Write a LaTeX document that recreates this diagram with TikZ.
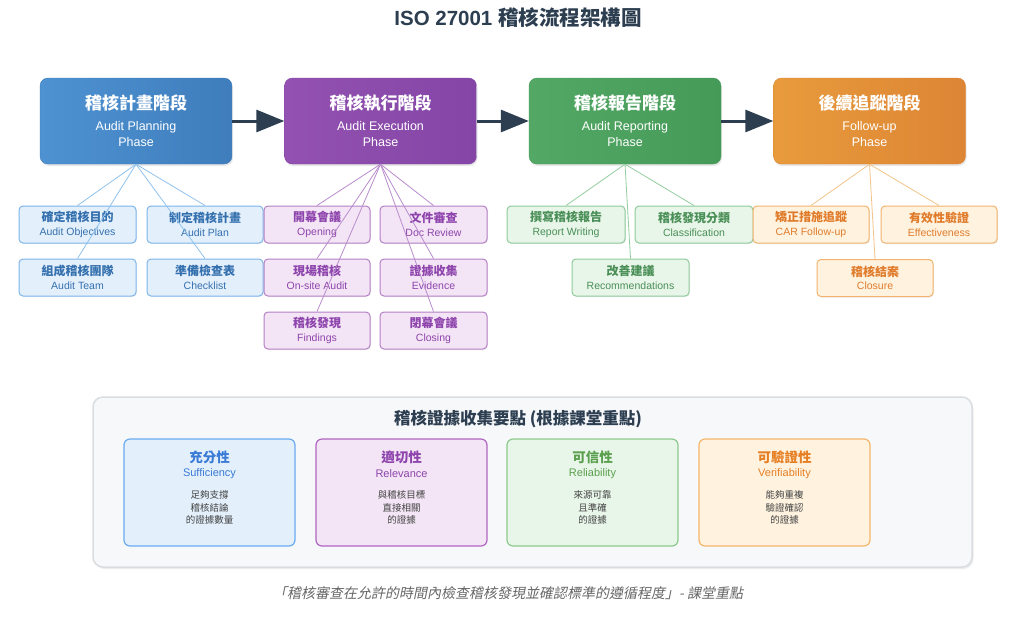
\documentclass[tikz,border=0pt]{standalone}
\usepackage{fontspec}
\setmainfont{Liberation Sans}
\newfontfamily\cjk{Noto Sans CJK TC}
\newfontfamily\cjkit{Noto Sans CJK TC}[FakeSlant=0.2]
\usetikzlibrary{arrows.meta,shadows,positioning}

% --- Colores ---
\definecolor{ink}{HTML}{2C3E50}
\definecolor{blueA}{HTML}{4E92D2}   \definecolor{blueB}{HTML}{3F7DBC}
\definecolor{purpleA}{HTML}{9352B1} \definecolor{purpleB}{HTML}{8445A6}
\definecolor{greenA}{HTML}{52A864}  \definecolor{greenB}{HTML}{469A58}
\definecolor{orangeA}{HTML}{E89B3C} \definecolor{orangeB}{HTML}{DD8535}
\definecolor{bluefill}{HTML}{E3F0FC}   \definecolor{blueline}{HTML}{7DB5EA}
\definecolor{bluetext}{HTML}{3570AE}   \definecolor{bluelink}{HTML}{90C2EE}
\definecolor{purplefill}{HTML}{F3E5F5} \definecolor{purpleline}{HTML}{B580C6}
\definecolor{purpletext}{HTML}{8E44AD} \definecolor{purplelink}{HTML}{B98CCD}
\definecolor{greenfill}{HTML}{E8F5E9}  \definecolor{greenline}{HTML}{8FCB9B}
\definecolor{greentext}{HTML}{4A8F57}  \definecolor{greenlink}{HTML}{93CD9E}
\definecolor{orangefill}{HTML}{FFF3E0} \definecolor{orangeline}{HTML}{F1B36E}
\definecolor{orangetext}{HTML}{E07B2A} \definecolor{orangelink}{HTML}{F3C48A}
\definecolor{blueedge}{HTML}{6AAAF0}   \definecolor{bluehead}{HTML}{3A7BD5}
\definecolor{purpleedge}{HTML}{B065C2} \definecolor{purplehead}{HTML}{8E44AD}
\definecolor{greenedge}{HTML}{8CC98C}  \definecolor{greenhead}{HTML}{5BA04E}
\definecolor{orangeedge}{HTML}{F5B56B} \definecolor{orangehead}{HTML}{E67E22}
\definecolor{panelfill}{HTML}{F7F8FA}
\definecolor{paneledge}{HTML}{DADDE0}
\definecolor{bodytext}{HTML}{444444}
\definecolor{quote}{HTML}{666666}

\begin{document}
\begin{tikzpicture}[x=1pt, y=-1pt,
  phase/.style={rounded corners=8pt, left color=#1A, right color=#1B, draw=#1B,
    minimum width=192pt, minimum height=86pt, align=center, text=white,
    font=\fontsize{12.5}{16}\selectfont,
    drop shadow={opacity=0.18, shadow xshift=1pt, shadow yshift=-2pt}},
  task/.style={rounded corners=4pt, draw=#1line, fill=#1fill, text=#1text,
    line width=1pt, minimum height=37pt, inner sep=0pt, align=center,
    font=\fontsize{10.5}{13}\selectfont,
    drop shadow={opacity=0.12, shadow xshift=1pt, shadow yshift=-1pt}},
  link/.style={draw=#1link, line width=0.8pt},
  flow/.style={draw=ink, line width=3pt, -{Triangle[length=28pt, width=22pt]}},
  card/.style={rounded corners=6pt, draw=#1edge, fill=#1fill, line width=1.2pt,
    minimum width=171pt, minimum height=107pt}]

  \useasboundingbox[fill=white] (0,0) rectangle (1024,630);

  % --- Titulo ---
  \node[text=ink, font=\bfseries\fontsize{20.5}{24}\selectfont] (title) at (518,18)
        {ISO 27001 {\cjk\bfseries 稽核流程架構圖}};

  % --- Fases principales ---
  \node[phase=blue] (plan) at (136,121)
        {{\cjk\bfseries\fontsize{17}{19}\selectfont 稽核計畫階段}\\[5pt]Audit Planning\\Phase};
  \node[phase=purple] (exec) at (380.5,121)
        {{\cjk\bfseries\fontsize{17}{19}\selectfont 稽核執行階段}\\[5pt]Audit Execution\\Phase};
  \node[phase=green] (report) at (625,121)
        {{\cjk\bfseries\fontsize{17}{19}\selectfont 稽核報告階段}\\[5pt]Audit Reporting\\Phase};
  \node[phase=orange] (follow) at (869.5,121)
        {{\cjk\bfseries\fontsize{17}{19}\selectfont 後續追蹤階段}\\[5pt]Follow-up\\Phase};

  % --- Flechas entre fases ---
  \draw[flow] (plan) -- (exec);
  \draw[flow] (exec) -- (report);
  \draw[flow] (report) -- (follow);

  % --- Subtareas ---
  \foreach \name/\c/\x/\y/\w/\zh/\en in {
      obj/blue/77.5/224.5/117/確定稽核目的/Audit Objectives,
      aplan/blue/205/224.5/116/制定稽核計畫/Audit Plan,
      team/blue/77.5/277.5/117/組成稽核團隊/Audit Team,
      check/blue/205/277.5/116/準備檢查表/Checklist,
      open/purple/317/224.5/106/開幕會議/Opening,
      doc/purple/433.5/224.5/107/文件審查/Doc Review,
      onsite/purple/317/277.5/106/現場稽核/On-site Audit,
      evid/purple/433.5/277.5/107/證據收集/Evidence,
      find/purple/317/330.5/106/稽核發現/Findings,
      close/purple/433.5/330.5/107/閉幕會議/Closing,
      write/green/566/224.5/118/撰寫稽核報告/Report Writing,
      classif/green/694/224.5/118/稽核發現分類/Classification,
      recom/green/630.5/277.5/117/改善建議/Recommendations,
      car/orange/811/224.5/116/矯正措施追蹤/CAR Follow-up,
      effect/orange/939/224.5/116/有效性驗證/Effectiveness,
      closure/orange/875/278/116/稽核結案/Closure}
    \node[task=\c, minimum width=\w pt] (\name) at (\x,\y)
          {{\cjk\bfseries\fontsize{12}{13}\selectfont \zh}\\[0.5pt]\en};

  % --- Conectores fase -> subtarea ---
  \foreach \n in {obj,aplan,team,check}
    \draw[link=blue] (plan.south) -- (\n.north);
  \foreach \n in {open,doc,onsite,evid,find,close}
    \draw[link=purple] (exec.south) -- (\n.north);
  \foreach \n in {write,classif,recom}
    \draw[link=green] (report.south) -- (\n.north);
  \foreach \n in {car,effect,closure}
    \draw[link=orange] (follow.south) -- (\n.north);

  % --- Panel de evidencias ---
  \node[rounded corners=10pt, draw=paneledge, fill=panelfill, line width=1.5pt,
        minimum width=879pt, minimum height=170pt,
        drop shadow={opacity=0.15, shadow xshift=1.5pt, shadow yshift=-2pt}]
        (panel) at (532.5,482) {};
  \node[text=ink, font=\cjk\bfseries\fontsize{16.5}{19}\selectfont] (ptitle) at (518,419)
        {稽核證據收集要點 (根據課堂重點)};

  \foreach \name/\c/\x/\zh/\en/\body in {
      suff/blue/209.5/充分性/Sufficiency/{足夠支撐\\稽核結論\\的證據數量},
      rele/purple/401.5/適切性/Relevance/{與稽核目標\\直接相關\\的證據},
      reli/green/592.5/可信性/Reliability/{來源可靠\\且準確\\的證據},
      veri/orange/784.5/可驗證性/Verifiability/{能夠重複\\驗證確認\\的證據}}
  {
    \node[card=\c] (\name) at (\x,492.5) {};
    \node[text=\c head, font=\cjk\bfseries\fontsize{13.5}{16}\selectfont]
          (\name-zh) at ([yshift=-19pt]\name.north) {\zh};
    \node[text=\c head, font=\fontsize{11}{13}\selectfont]
          (\name-en) at ([yshift=-35pt]\name.north) {\en};
    \node[text=bodytext, align=center, font=\cjk\fontsize{9.5}{12.5}\selectfont]
          (\name-body) at ([yshift=-69pt]\name.north) {\body};
  }

  % --- Cita ---
  \node[text=quote, font=\cjkit\fontsize{14}{16}\selectfont] (cita) at (508,593)
        {「稽核審查在允許的時間內檢查稽核發現並確認標準的遵循程度」- 課堂重點};

\end{tikzpicture}
\end{document}
